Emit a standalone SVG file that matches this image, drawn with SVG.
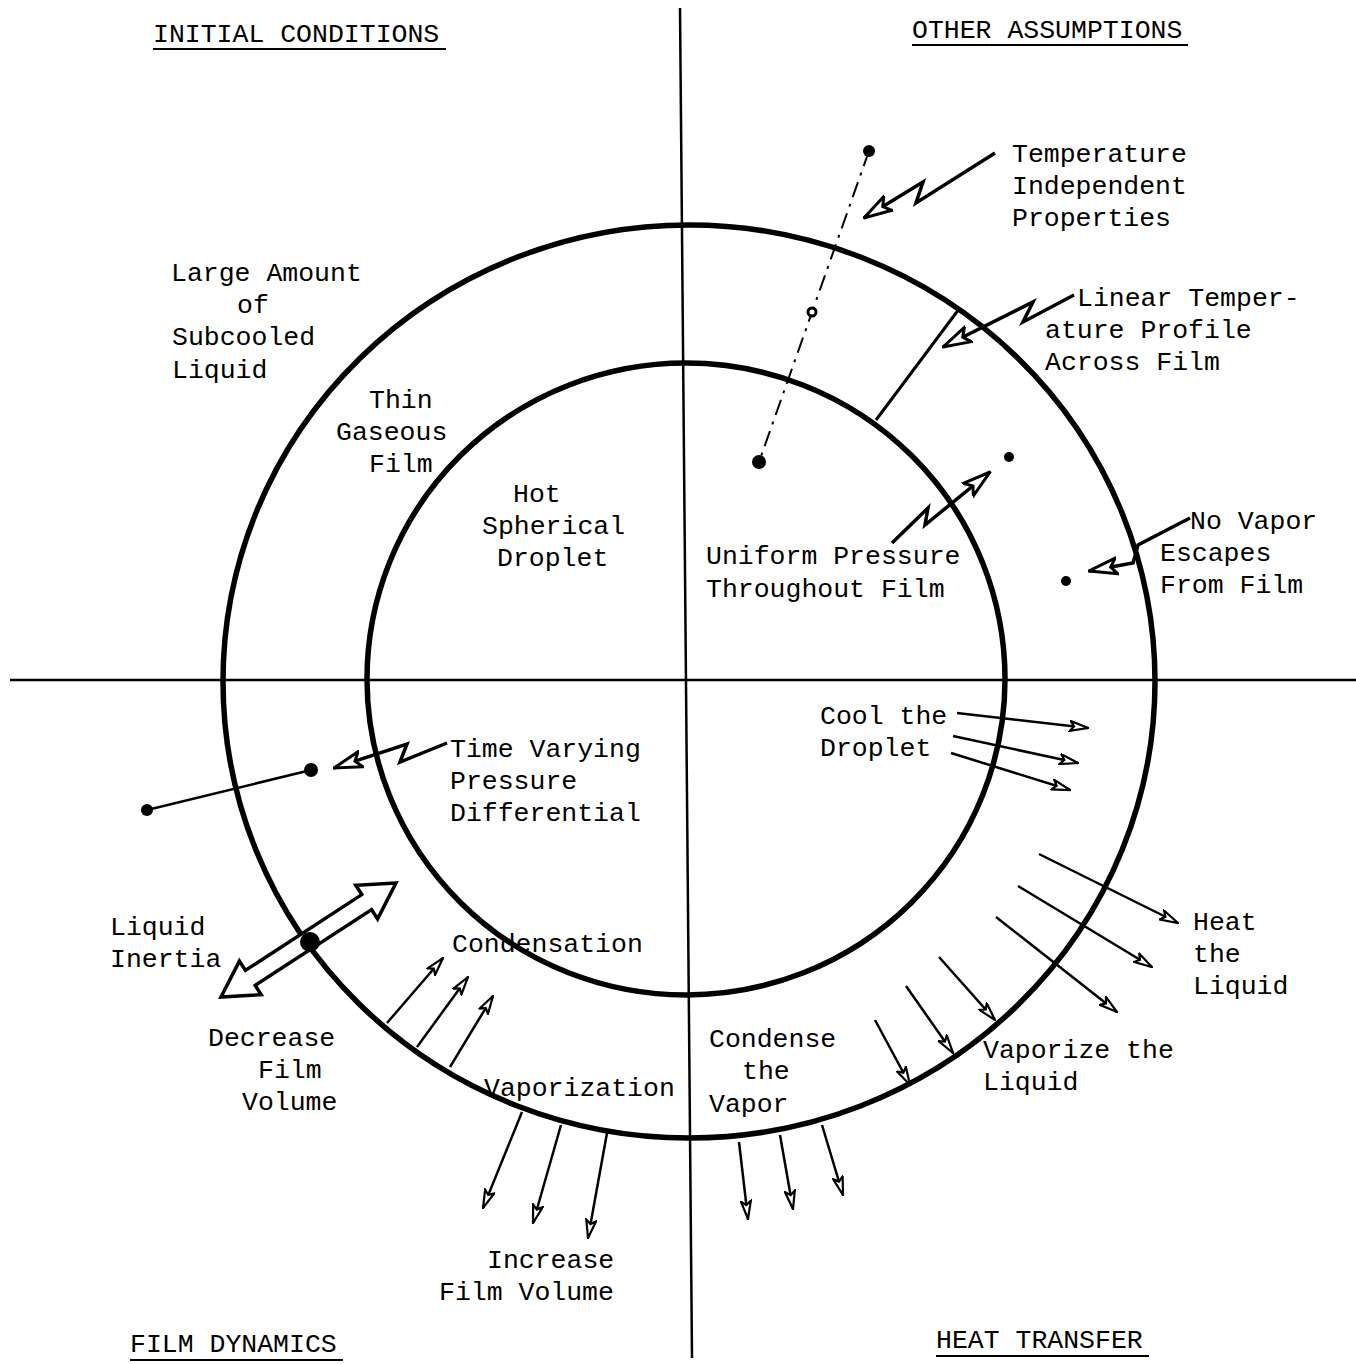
<svg xmlns="http://www.w3.org/2000/svg" width="1356" height="1364" viewBox="0 0 1356 1364">
<defs>
<style>
text{font-family:"Liberation Mono","Courier New",monospace;font-size:26.5px;fill:#000}
.ln{stroke:#000;fill:none;stroke-width:2.5}
.zz{stroke:#000;fill:none;stroke-width:3.5;stroke-linejoin:miter}
.ring{stroke:#000;fill:none;stroke-width:5.5}
.ax{stroke:#000;stroke-width:2.5}
.ul{stroke:#000;stroke-width:2}
.dot{fill:#000}
</style>
<marker id="ah" markerUnits="userSpaceOnUse" viewBox="0 0 20 12" refX="19" refY="6" markerWidth="20" markerHeight="12" orient="auto">
<path d="M1,1 L19,6 L1,11 L5,6 Z" fill="#fff" stroke="#000" stroke-width="2.2" stroke-linejoin="miter"/>
</marker>
<marker id="ahb" markerUnits="userSpaceOnUse" viewBox="0 0 30 20" refX="29" refY="10" markerWidth="30" markerHeight="20" orient="auto">
<path d="M1,2 L29,10 L1,18 L7,10 Z" fill="#fff" stroke="#000" stroke-width="3" stroke-linejoin="miter"/>
</marker>
</defs>
<rect width="1356" height="1364" fill="#fff"/>

<g id="axes">
<line class="ax" x1="680" y1="8" x2="692" y2="1358"/>
<line class="ax" x1="10" y1="680" x2="1356" y2="680"/>
</g>

<g id="outer-film">
<ellipse class="ring" cx="689" cy="681.5" rx="466" ry="456.5"/>
</g>
<g id="droplet">
<ellipse class="ring" cx="686" cy="679" rx="319" ry="316"/>
</g>

<g id="headings">
<text x="153" y="42">INITIAL CONDITIONS</text>
<line class="ul" x1="153" y1="49" x2="446" y2="49"/>
<text x="912" y="38">OTHER ASSUMPTIONS</text>
<line class="ul" x1="912" y1="45" x2="1188" y2="45"/>
<text x="130" y="1352">FILM DYNAMICS</text>
<line class="ul" x1="130" y1="1360" x2="343" y2="1360"/>
<text x="936" y="1348">HEAT TRANSFER</text>
<line class="ul" x1="936" y1="1356" x2="1149" y2="1356"/>
</g>

<g id="connectors">
<!-- dash-dot line with points -->
<line x1="869" y1="151" x2="759" y2="462" stroke="#000" stroke-width="2" stroke-dasharray="16 7 3 7"/>
<!-- temperature independent zigzag -->
<path class="zz" d="M995,153 L916,203 L923,182 L864,218" marker-end="url(#ahb)"/>
<!-- linear temperature profile -->
<line x1="876" y1="420" x2="959" y2="309" stroke="#000" stroke-width="3"/>
<path class="zz" d="M1074,295 L1023,322 L1033,302 L943,347" marker-end="url(#ahb)"/>
<!-- uniform pressure -->
<path class="zz" d="M892,543 L928,508 L925,525 L990,472" marker-end="url(#ahb)"/>
<!-- no vapor escapes -->
<path class="zz" d="M1190,518 L1138,545 L1133,563 L1089,571" stroke-width="3" marker-end="url(#ahb)"/>
<!-- time varying pressure -->
<path class="zz" d="M447,743 L400,762 L407,744 L334,768" marker-end="url(#ahb)"/>
<line x1="311" y1="770" x2="147" y2="810" stroke="#000" stroke-width="2.5"/>
<!-- liquid inertia double arrow -->
<polygon points="396,883 355.8,885.3 361.8,894.6 245.4,970.4 239.4,961.1 221,997 261.2,994.7 255.2,985.4 371.6,909.6 377.6,918.9" fill="#fff" stroke="#000" stroke-width="3.5" stroke-linejoin="miter"/>
<!-- condensation arrows -->
<line class="ln" x1="387" y1="1023" x2="443" y2="958" marker-end="url(#ah)"/>
<line class="ln" x1="417" y1="1047" x2="468" y2="977" marker-end="url(#ah)"/>
<line class="ln" x1="450" y1="1067" x2="493" y2="996" marker-end="url(#ah)"/>
<!-- vaporization arrows -->
<line class="ln" x1="522" y1="1112" x2="483" y2="1208" marker-end="url(#ah)"/>
<line class="ln" x1="561" y1="1125" x2="533" y2="1223" marker-end="url(#ah)"/>
<line class="ln" x1="607" y1="1133" x2="588" y2="1238" marker-end="url(#ah)"/>
<!-- condense the vapor arrows -->
<line class="ln" x1="739" y1="1142" x2="748" y2="1219" marker-end="url(#ah)"/>
<line class="ln" x1="780" y1="1135" x2="793" y2="1209" marker-end="url(#ah)"/>
<line class="ln" x1="822" y1="1125" x2="843" y2="1195" marker-end="url(#ah)"/>
<!-- vaporize the liquid arrows -->
<line class="ln" x1="875" y1="1020" x2="910" y2="1085" marker-end="url(#ah)"/>
<line class="ln" x1="906" y1="986" x2="953" y2="1053" marker-end="url(#ah)"/>
<line class="ln" x1="939" y1="957" x2="995" y2="1020" marker-end="url(#ah)"/>
<!-- heat the liquid arrows -->
<line class="ln" x1="1039" y1="854" x2="1178" y2="923" marker-end="url(#ah)"/>
<line class="ln" x1="1018" y1="886" x2="1152" y2="967" marker-end="url(#ah)"/>
<line class="ln" x1="996" y1="917" x2="1117" y2="1012" marker-end="url(#ah)"/>
<!-- cool the droplet arrows -->
<line class="ln" x1="957" y1="713" x2="1088" y2="728" marker-end="url(#ah)"/>
<line class="ln" x1="953" y1="736" x2="1078" y2="763" marker-end="url(#ah)"/>
<line class="ln" x1="951" y1="753" x2="1070" y2="790" marker-end="url(#ah)"/>
</g>

<g id="points">
<circle class="dot" cx="869" cy="151" r="6"/>
<circle cx="812" cy="312" r="4" fill="#fff" stroke="#000" stroke-width="3"/>
<circle class="dot" cx="759" cy="462" r="7"/>
<circle class="dot" cx="1009" cy="457" r="5"/>
<circle class="dot" cx="1066" cy="581" r="5"/>
<circle class="dot" cx="311" cy="770" r="7"/>
<circle class="dot" cx="147" cy="810" r="6"/>
<circle class="dot" cx="310" cy="942" r="10"/>
</g>

<g id="label-temperature">
<text x="1012" y="162">Temperature</text>
<text x="1012" y="194">Independent</text>
<text x="1012" y="226">Properties</text>
</g>
<g id="label-linear">
<text x="1077" y="306">Linear Temper-</text>
<text x="1045" y="338">ature Profile</text>
<text x="1045" y="370">Across Film</text>
</g>
<g id="label-subcooled">
<text x="171" y="281">Large Amount</text>
<text x="237" y="313">of</text>
<text x="172" y="345">Subcooled</text>
<text x="172" y="378">Liquid</text>
</g>
<g id="label-film">
<text x="369" y="408">Thin</text>
<text x="336" y="440">Gaseous</text>
<text x="369" y="472">Film</text>
</g>
<g id="label-droplet">
<text x="513" y="502">Hot</text>
<text x="482" y="534">Spherical</text>
<text x="497" y="566">Droplet</text>
</g>
<g id="label-uniform">
<text x="706" y="564">Uniform Pressure</text>
<text x="706" y="597">Throughout Film</text>
</g>
<g id="label-novapor">
<text x="1190" y="529">No Vapor</text>
<text x="1160" y="561">Escapes</text>
<text x="1160" y="593">From Film</text>
</g>
<g id="label-cool">
<text x="820" y="724">Cool the</text>
<text x="820" y="756">Droplet</text>
</g>
<g id="label-timevarying">
<text x="450" y="757">Time Varying</text>
<text x="450" y="789">Pressure</text>
<text x="450" y="821">Differential</text>
</g>
<g id="label-inertia">
<text x="110" y="935">Liquid</text>
<text x="110" y="967">Inertia</text>
</g>
<g id="label-condensation">
<text x="452" y="952">Condensation</text>
</g>
<g id="label-decrease">
<text x="208" y="1046">Decrease</text>
<text x="258" y="1078">Film</text>
<text x="242" y="1110">Volume</text>
</g>
<g id="label-vaporization">
<text x="484" y="1096">Vaporization</text>
</g>
<g id="label-condense">
<text x="709" y="1047">Condense</text>
<text x="742" y="1079">the</text>
<text x="709" y="1112">Vapor</text>
</g>
<g id="label-heat">
<text x="1193" y="930">Heat</text>
<text x="1193" y="962">the</text>
<text x="1193" y="994">Liquid</text>
</g>
<g id="label-vaporize">
<text x="983" y="1058">Vaporize the</text>
<text x="983" y="1090">Liquid</text>
</g>
<g id="label-increase">
<text x="487" y="1268">Increase</text>
<text x="439" y="1300">Film Volume</text>
</g>
</svg>
